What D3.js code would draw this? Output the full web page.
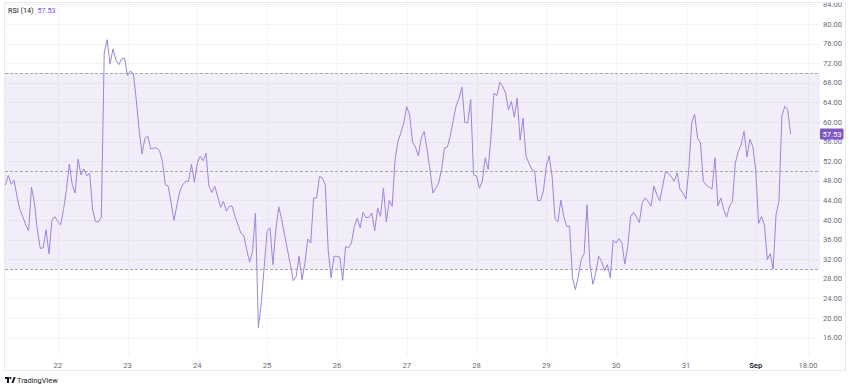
<!DOCTYPE html>
<html>
<head>
<meta charset="utf-8">
<script src="https://cdn.jsdelivr.net/npm/d3@7/dist/d3.min.js"></script>
<style>
  html, body { margin: 0; padding: 0; background: #ffffff; }
  svg { display: block; }
  text { font-family: Roboto, "Liberation Sans", "DejaVu Sans", sans-serif; }
</style>
</head>
<body>
<svg id="chart" width="850" height="388"></svg>
<script>
// ---------------- DATA ----------------
const seriesName = "RSI (14)";
const lastValueLabel = "57.53";
const startTimeUTC = "2023-08-21T06:00:00Z";   // first hourly bar
const rsiValues = [
  47.1, 49.1, 47.3, 48.1, 44.8, 42.1, 40.7, 39.0, 37.8, 46.7,
  43.5, 38.0, 34.2, 34.3, 38.0, 33.1, 39.9, 40.7, 39.7, 39.0,
  42.1, 46.2, 51.4, 47.2, 45.5, 52.4, 49.2, 50.4, 49.0, 49.6,
  42.1, 39.7, 39.6, 40.6, 74.1, 76.8, 71.8, 74.9, 72.7, 71.7,
  72.9, 73.0, 69.5, 70.4, 69.9, 64.6, 58.4, 53.5, 56.7, 57.1,
  54.5, 54.7, 54.7, 54.2, 52.0, 47.2, 46.9, 43.5, 39.9, 43.1,
  45.9, 47.2, 47.9, 47.9, 51.4, 47.7, 51.6, 53.0, 52.1, 53.6,
  46.9, 45.6, 46.9, 44.8, 42.6, 43.8, 41.8, 42.8, 42.8, 40.7,
  39.0, 37.3, 36.8, 33.9, 31.4, 33.6, 41.4, 18.0, 23.1, 30.4,
  37.7, 38.4, 30.9, 38.0, 42.7, 40.1, 37.0, 33.9, 30.9, 27.6,
  28.5, 32.6, 27.8, 31.2, 36.1, 35.3, 44.5, 44.5, 48.9, 48.6,
  47.2, 33.9, 28.2, 32.6, 32.6, 32.4, 27.7, 34.6, 34.3, 35.3,
  38.7, 40.4, 38.4, 41.6, 40.5, 40.5, 41.4, 37.8, 42.4, 40.7,
  46.5, 39.6, 44.0, 42.8, 52.3, 56.1, 57.8, 59.8, 63.1, 61.5,
  55.9, 54.9, 53.1, 56.7, 58.1, 54.4, 50.3, 45.5, 46.5, 47.6,
  50.3, 54.7, 54.9, 57.2, 60.3, 63.3, 64.9, 67.1, 59.9, 59.8,
  64.6, 49.2, 49.0, 46.5, 47.9, 52.7, 50.3, 57.1, 65.9, 65.4,
  68.1, 67.3, 65.9, 62.5, 64.2, 61.0, 64.9, 56.3, 60.8, 53.1,
  51.6, 50.4, 49.9, 44.0, 44.0, 45.9, 51.0, 53.1, 48.9, 40.3,
  39.6, 44.1, 40.7, 38.7, 38.7, 28.2, 25.8, 28.5, 31.9, 33.1,
  43.1, 30.9, 26.9, 29.2, 32.6, 31.6, 29.7, 30.9, 28.2, 35.9,
  35.3, 36.2, 35.3, 31.0, 34.6, 40.7, 41.6, 40.6, 39.5, 43.5,
  44.5, 43.8, 42.8, 46.9, 45.2, 43.9, 46.9, 49.9, 49.5, 48.8,
  47.9, 49.6, 46.2, 45.5, 44.3, 50.3, 59.8, 61.6, 56.7, 55.7,
  47.9, 47.1, 46.7, 46.3, 52.7, 42.9, 44.5, 42.1, 40.6, 42.8,
  43.8, 51.6, 54.0, 55.4, 58.1, 52.9, 56.5, 55.0, 50.3, 39.3,
  40.7, 39.0, 31.9, 33.1, 30.0, 41.1, 43.8, 61.2, 63.2, 62.5, 57.53
];
const bandLevels = [30, 50, 70];
const yTickValues = [84, 80, 76, 72, 68, 64, 60, 56, 52, 48, 44, 40, 36, 32, 28, 24, 20, 16];
const xTickTimes = [
  "2023-08-22T00:00:00Z", "2023-08-23T00:00:00Z", "2023-08-24T00:00:00Z",
  "2023-08-25T00:00:00Z", "2023-08-26T00:00:00Z", "2023-08-27T00:00:00Z",
  "2023-08-28T00:00:00Z", "2023-08-29T00:00:00Z", "2023-08-30T00:00:00Z",
  "2023-08-31T00:00:00Z", "2023-09-01T00:00:00Z", "2023-09-01T18:00:00Z"
];
const xTickLabels = ["22", "23", "24", "25", "26", "27", "28", "29", "30", "31", "Sep", "18:00"];

// ---------------- LAYOUT ----------------
const W = 850, H = 388;
const plot = { left: 5, right: 820, top: 3, bottom: 356 };
const colors = {
  line: "#9d84dd",
  band: "rgba(126, 87, 194, 0.1)",
  dash: "#a6a8b0",
  grid: "#f3f4f7",
  text: "#6a6d78",
  frame: "#e8eaef",
  tag: "#7e57c2"
};

const svg = d3.select("#chart");
const t0 = new Date(startTimeUTC).getTime();
const data = rsiValues.map((v, i) => ({ t: new Date(t0 + i * 3600000), v }));

const x = d3.scaleUtc()
  .domain([new Date("2023-08-22T00:00:00Z"), new Date("2023-09-01T00:00:00Z")])
  .range([57.7, 755.7]);
const y = d3.scaleLinear().domain([50 - 185 / 4.9, 50 + 168 / 4.9]).range([plot.bottom, plot.top]);

const defs = svg.append("defs");
defs.append("clipPath").attr("id", "plotClip")
  .append("rect").attr("x", plot.left).attr("y", plot.top)
  .attr("width", plot.right - plot.left).attr("height", plot.bottom - plot.top);
defs.append("clipPath").attr("id", "axisClip")
  .append("rect").attr("x", plot.right).attr("y", 1)
  .attr("width", 26).attr("height", plot.bottom - 1);

// grid
const grid = svg.append("g").attr("clip-path", "url(#plotClip)");
grid.selectAll("line.h").data(yTickValues.concat([12])).join("line")
  .attr("x1", plot.left).attr("x2", plot.right)
  .attr("y1", d => Math.round(y(d)) + 0.5).attr("y2", d => Math.round(y(d)) + 0.5)
  .attr("stroke", colors.grid).attr("stroke-width", 1);
grid.selectAll("line.v").data(xTickTimes).join("line")
  .attr("y1", plot.top).attr("y2", plot.bottom)
  .attr("x1", d => Math.round(x(new Date(d))) + 0.5).attr("x2", d => Math.round(x(new Date(d))) + 0.5)
  .attr("stroke", colors.grid).attr("stroke-width", 1);

// band 30-70
svg.append("rect")
  .attr("x", plot.left).attr("width", plot.right - plot.left)
  .attr("y", y(bandLevels[2])).attr("height", y(bandLevels[0]) - y(bandLevels[2]))
  .attr("fill", colors.band);

// dashed levels
svg.selectAll("line.lvl").data(bandLevels).join("line")
  .attr("x1", plot.left).attr("x2", plot.right)
  .attr("y1", d => Math.round(y(d)) + 0.5).attr("y2", d => Math.round(y(d)) + 0.5)
  .attr("stroke", colors.dash).attr("stroke-width", 1).attr("stroke-dasharray", "3,2");

// RSI line
const line = d3.line().x(d => x(d.t)).y(d => y(d.v));
svg.append("path").datum(data)
  .attr("clip-path", "url(#plotClip)")
  .attr("d", line).attr("fill", "none")
  .attr("stroke", colors.line).attr("stroke-width", 1)
  .attr("stroke-linejoin", "round");

// right price axis labels
const yAxisG = svg.append("g").attr("clip-path", "url(#axisClip)");
yAxisG.selectAll("text").data(yTickValues).join("text")
  .attr("x", 823).attr("y", d => y(d)).attr("dy", "0.35em")
  .attr("font-size", 7.6).attr("fill", colors.text)
  .text(d => d.toFixed(2));

// last value tag
const lastV = rsiValues[rsiValues.length - 1];
svg.append("rect").attr("x", 820).attr("y", y(lastV) - 5.5).attr("width", 23.5).attr("height", 11)
  .attr("fill", colors.tag).attr("rx", 1);
svg.append("text").attr("x", 822.5).attr("y", y(lastV)).attr("dy", "0.35em")
  .attr("font-size", 7.6).attr("fill", "#ffffff").text(lastValueLabel);

// time axis labels
svg.selectAll("text.xt").data(xTickTimes).join("text")
  .attr("class", "xt")
  .attr("x", d => x(new Date(d))).attr("y", 365).attr("dy", "0.35em")
  .attr("text-anchor", "middle").attr("font-size", 7.6)
  .attr("fill", (d, i) => xTickLabels[i] === "Sep" ? "#2a2e39" : colors.text)
  .attr("font-weight", (d, i) => xTickLabels[i] === "Sep" ? "bold" : "normal")
  .text((d, i) => xTickLabels[i]);

// frame
svg.append("rect").attr("x", 4.5).attr("y", 2.5).attr("width", 841).attr("height", 368)
  .attr("fill", "none").attr("stroke", colors.frame).attr("stroke-width", 1);

// legend
const leg = svg.append("text").attr("x", 8).attr("y", 12.5).attr("font-size", 7.2);
leg.append("tspan").attr("fill", "#131722").text(seriesName);
leg.append("tspan").attr("dx", 4).attr("fill", colors.tag).text(lastValueLabel);

// TradingView logo
const logo = svg.append("g").attr("transform", "translate(5,377)");
logo.append("path").attr("d", "M0 0 H4 V6 H2 V2 H0 Z").attr("fill", "#131722");
logo.append("circle").attr("cx", 5.4).attr("cy", 1.2).attr("r", 1.1).attr("fill", "#131722");
logo.append("path").attr("d", "M6.5 6 L8.6 0 H10.6 L8.5 6 Z").attr("fill", "#131722");
svg.append("text").attr("x", 17).attr("y", 383).attr("font-size", 7.4)
  .attr("fill", "#131722").text("TradingView");
</script>
</body>
</html>
